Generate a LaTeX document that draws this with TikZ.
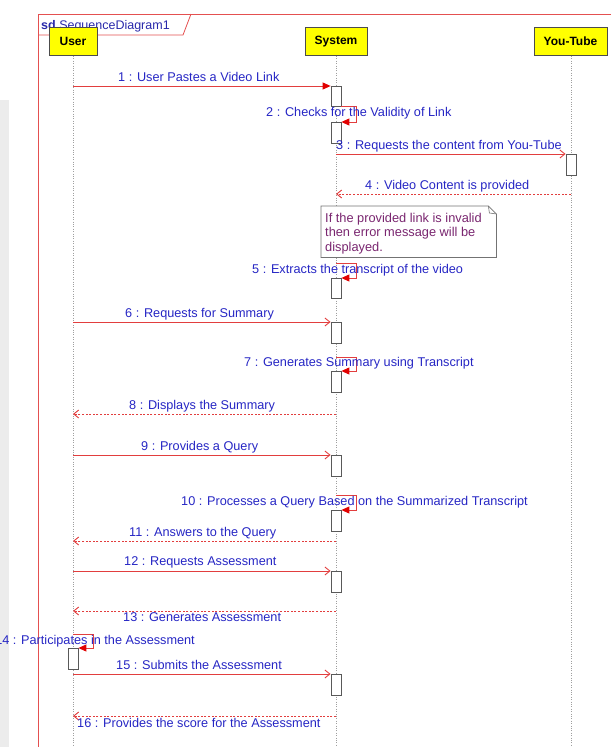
\documentclass[tikz,border=0pt]{standalone}
\usepackage{fontspec}
\setmainfont{Liberation Sans}
\usetikzlibrary{arrows.meta,calc}
\definecolor{msgred}{RGB}{226,62,62}
\definecolor{tipred}{RGB}{225,0,0}
\definecolor{lblblue}{RGB}{38,38,196}
\definecolor{frred}{RGB}{228,80,80}
\definecolor{headyel}{RGB}{255,255,0}
\definecolor{notepurple}{RGB}{122,38,112}
\definecolor{sdblue}{RGB}{40,40,170}
\tikzset{
  head/.style={draw=black!70, fill=headyel, line width=0.8pt, minimum height=28, inner sep=0pt, font=\fontsize{12}{14}\selectfont\bfseries},
  lifeline/.style={draw=gray!75, line width=0.9pt, dash pattern=on 1pt off 1.4pt},
  actbox/.style={draw=black!65, fill=white, line width=0.8pt, minimum width=10, minimum height=21, inner sep=0pt, anchor=north},
  msg/.style={draw=msgred, line width=0.9pt},
  opentip/.style={-{Straight Barb[length=5pt,width=8pt]}},
  filltip/.style={-{Triangle[length=8pt,width=7pt,fill=tipred,color=tipred]}},
  retmsg/.style={draw=msgred, line width=0.9pt, dash pattern=on 2pt off 1.6pt, -{Straight Barb[length=5pt,width=8pt]}},
  lbl/.style={text=lblblue, font=\fontsize{12.7}{15}\selectfont, inner sep=0pt, anchor=mid west},
  notebox/.style={draw=none, minimum width=175, minimum height=51, inner sep=0pt, anchor=north west},
  notetext/.style={text=notepurple, font=\fontsize{12.8}{14.5}\selectfont, align=left, inner sep=0pt, anchor=north west},
}
\begin{document}
\begin{tikzpicture}[x=1pt,y=-1pt]
\useasboundingbox (0,0) rectangle (611,747);
\clip (0,0) rectangle (611,747);
\fill[gray!15] (0,100) rectangle (9,747);
% frame
\draw[frred, line width=0.8pt] (611,14) -- (38,14) -- (38,760);
\draw[frred, line width=0.8pt] (38,35) -- (183,35) -- (191,14);
\node[anchor=mid west, inner sep=0pt, text=sdblue, font=\fontsize{12.5}{14}\selectfont] (sdlbl) at (41,26.5) {\textbf{sd} SequenceDiagram1};
% heads
\node[head, minimum width=48] (user) at (73,41.5) {User};
\node[head, minimum width=62] (sys) at (336,41.5) {System};
\node[head, minimum width=73] (yt) at (570.5,41.5) {You-Tube};
\coordinate (userend) at (73,760);
\coordinate (sysend) at (336,760);
\coordinate (ytend) at (571,760);
\draw[lifeline] (user.south) -- (userend);
\draw[lifeline] (sys.south) -- (sysend);
\draw[lifeline] ([xshift=0.5pt]yt.south) -- (ytend);
% activations
\node[actbox, minimum height=20] (a1) at (336,86) {};
\node[actbox] (a2) at (336,122) {};
\node[actbox] (y3) at (571,154) {};
\node[actbox, minimum height=20] (a5) at (336,278) {};
\node[actbox, minimum height=21] (a6) at (336,322) {};
\node[actbox] (a7) at (336,371) {};
\node[actbox] (a9) at (336,455) {};
\node[actbox] (a10) at (336,510) {};
\node[actbox] (a12) at (336,571) {};
\node[actbox] (ua) at (73,648) {};
\node[actbox] (a15) at (336,674) {};
% coordinates on lifelines
\coordinate (u1) at (73,86);
\coordinate (s3) at (336,154);
\coordinate (y4) at (571,194);
\coordinate (s4) at (336,194);
\coordinate (s5) at (336,263);
\coordinate (u6) at (73,322);
\coordinate (s7) at (336,357);
\coordinate (s8) at (336,414);
\coordinate (u8) at (73,414);
\coordinate (u9) at (73,455);
\coordinate (s10) at (336,495);
\coordinate (s11) at (336,541);
\coordinate (u11) at (73,541);
\coordinate (u12) at (73,571);
\coordinate (s13) at (336,611);
\coordinate (u13) at (73,611);
\coordinate (u14) at (73,634);
\coordinate (u15) at (73,674);
\coordinate (s16) at (336,716);
\coordinate (u16) at (73,716);
% messages
\draw[msg, filltip] (u1) -- (a1.north west);
\draw[msg, filltip] (a1.south east) -- ++(15,0) |- (a2.north east);
\draw[msg, opentip] (s3) -- (y3.north west);
\draw[retmsg] (y4) -- (s4);
\draw[msg, filltip] (s5) -- ++(20,0) |- (a5.north east);
\draw[msg, opentip] (u6) -- (a6.north west);
\draw[msg, filltip] (s7) -- ++(20,0) |- (a7.north east);
\draw[retmsg] (s8) -- (u8);
\draw[msg, opentip] (u9) -- (a9.north west);
\draw[msg, filltip] (s10) -- ++(20,0) |- (a10.north east);
\draw[retmsg] (s11) -- (u11);
\draw[msg, opentip] (u12) -- (a12.north west);
\draw[retmsg] (s13) -- (u13);
\draw[msg, filltip] (u14) -- ++(20,0) |- (ua.north east);
\draw[msg, opentip] (u15) -- (a15.north west);
\draw[retmsg] (s16) -- (u16);
% note
\node[notebox] (note) at (321,206) {};
\draw[draw=black!55, fill=white, line width=0.8pt] (note.north west) -- ($(note.north east)+(-8,0)$) -- ($(note.north east)+(0,8)$) -- (note.south east) -- (note.south west) -- cycle;
\draw[draw=black!55, line width=0.6pt] ($(note.north east)+(-8,0)$) -- ($(note.north east)+(-7,7)$) -- ($(note.north east)+(0,8)$);
\node[notetext] (notetxt) at (325,213) {If the provided link is invalid\\then error message will be\\displayed.};
% labels
\node[lbl] (l1) at (118,79) {1 : User Pastes a Video Link};
\node[lbl] (l2) at (266,114) {2 : Checks for the Validity of Link};
\node[lbl] (l3) at (336,147) {3 : Requests the content from You-Tube};
\node[lbl] (l4) at (365,187) {4 : Video Content is provided};
\node[lbl] (l5) at (252,271) {5 : Extracts the transcript of the video};
\node[lbl] (l6) at (125,315) {6 : Requests for Summary};
\node[lbl] (l7) at (244,364) {7 : Generates Summary using Transcript};
\node[lbl] (l8) at (129,407) {8 : Displays the Summary};
\node[lbl] (l9) at (141,448) {9 : Provides a Query};
\node[lbl] (l10) at (181,503) {10 : Processes a Query Based on the Summarized Transcript};
\node[lbl] (l11) at (129,534) {11 : Answers to the Query};
\node[lbl] (l12) at (124,563) {12 : Requests Assessment};
\node[lbl] (l13) at (123,619) {13 : Generates Assessment};
\node[lbl, anchor=mid east] (l14) at (195,642) {14 : Participates in the Assessment};
\node[lbl] (l15) at (116,667) {15 : Submits the Assessment};
\node[lbl] (l16) at (77,725) {16 : Provides the score for the Assessment};
\end{tikzpicture}
\end{document}
